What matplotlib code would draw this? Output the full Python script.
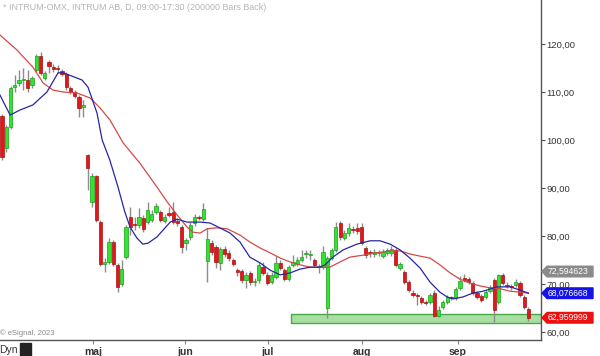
import matplotlib
matplotlib.use("Agg")
import matplotlib.pyplot as plt
from matplotlib.patches import Rectangle, Polygon
from matplotlib.transforms import blended_transform_factory
from matplotlib.ticker import FixedLocator, FuncFormatter

plt.rcParams['font.family'] = ['Liberation Sans', 'DejaVu Sans']

# ---------------- data (daily OHLC, INTRUM AB) ----------------
opens = [105.0, 98.33, 102.71, 111.04, 111.88, 112.5, 112.5, 111.46, 114.58, 117.5,
         112.92, 116.25, 115.21, 114.79, 114.38, 113.75, 110.83, 110.0, 108.96, 106.88,
         96.88, 87.08, 92.5, 82.92, 74.17, 74.58, 78.75, 73.96, 70.0, 75.63,
         83.96, 82.35, 82.29, 83.75, 82.92, 83.33, 85.0, 85.0, 83.13, 84.79,
         85.0, 82.9, 81.88, 78.54, 79.79, 82.71, 83.96, 83.54, 74.79, 78.54,
         77.71, 74.38, 77.29, 76.46, 75.0, 72.71, 72.71, 70.83, 72.29, 70.42,
         70.83, 73.54, 71.88, 70.42, 71.46, 74.38, 72.92, 71.04, 73.96, 74.17,
         75.0, 76.25, 76.0, 75.0, 73.5, 73.54, 65.0, 75.42, 77.08, 82.71,
         79.58, 80.63, 81.25, 81.67, 81.88, 77.5, 76.5, 76.25, 76.4, 75.83,
         76.46, 76.46, 77.08, 73.33, 72.5, 70.42, 68.13, 67.5, 67.08, 66.25,
         66.25, 68.13, 63.33, 65.21, 66.25, 67.1, 67.08, 69.17, 71.25, 71.04,
         70.21, 68.13, 67.5, 67.29, 68.54, 70.83, 66.25, 71.88, 69.6, 69.4,
         69.79, 70.21, 67.29, 64.79]
closes = [96.46, 102.71, 110.83, 111.46, 112.5, 112.6, 110.83, 112.92, 117.5, 113.96,
          113.96, 115.42, 114.79, 114.7, 113.75, 111.04, 110.0, 109.17, 106.67, 107.29,
          94.17, 92.5, 83.33, 74.17, 74.58, 78.75, 74.17, 69.38, 73.13, 81.88,
          81.88, 82.25, 83.96, 81.46, 85.42, 84.58, 86.25, 83.33, 83.96, 84.38,
          82.92, 82.8, 77.71, 79.17, 82.29, 83.96, 83.75, 85.63, 79.38, 76.67,
          74.58, 77.29, 76.25, 75.42, 74.17, 72.6, 70.83, 71.88, 70.42, 70.5,
          73.96, 72.29, 70.21, 71.88, 74.38, 73.33, 71.04, 73.54, 74.58, 75.0,
          75.63, 76.3, 76.1, 73.96, 73.6, 76.67, 75.42, 77.08, 81.88, 79.79,
          80.63, 81.67, 81.2, 81.04, 78.54, 76.04, 76.4, 76.67, 76.5, 76.67,
          77.08, 77.29, 73.96, 74.17, 70.42, 68.75, 67.71, 67.45, 66.25, 66.04,
          67.71, 63.33, 64.58, 66.25, 67.29, 67.0, 68.96, 70.63, 70.83, 70.42,
          68.13, 67.29, 66.67, 68.33, 69.38, 64.58, 71.88, 70.21, 69.55, 69.35,
          70.42, 67.71, 65.21, 62.96]
highs = [105.42, 103.13, 111.25, 113.54, 114.58, 115.0, 114.58, 113.33, 117.92, 118.33,
         114.38, 116.67, 115.83, 115.63, 114.79, 114.17, 111.25, 110.42, 109.38, 108.33,
         97.08, 93.13, 92.71, 83.33, 75.42, 79.58, 79.17, 74.38, 75.0, 82.29,
         86.04, 83.96, 85.83, 84.38, 87.08, 85.42, 86.88, 85.42, 84.58, 86.04,
         87.08, 83.75, 82.29, 79.58, 82.92, 84.58, 84.38, 86.88, 81.67, 79.17,
         78.13, 77.71, 77.92, 77.08, 75.42, 73.33, 73.13, 72.5, 72.71, 71.25,
         74.58, 74.58, 72.5, 72.5, 75.83, 75.0, 73.33, 73.96, 76.04, 75.63,
         77.08, 77.08, 77.08, 75.42, 74.17, 77.92, 75.83, 77.5, 82.92, 83.13,
         81.25, 82.71, 82.08, 82.71, 82.71, 77.92, 77.08, 77.29, 77.08, 77.29,
         77.5, 77.92, 77.5, 74.58, 72.92, 70.83, 68.75, 68.13, 67.5, 66.67,
         68.13, 68.75, 65.42, 66.67, 67.71, 67.5, 69.38, 71.67, 72.08, 71.46,
         70.63, 68.54, 67.92, 68.75, 69.79, 71.25, 72.08, 72.29, 70.42, 70.0,
         71.04, 70.63, 67.71, 65.21]
lows = [95.83, 97.5, 102.29, 110.0, 111.25, 110.42, 110.0, 110.83, 114.17, 113.54,
        112.5, 113.96, 114.17, 113.96, 113.33, 110.42, 109.58, 108.75, 104.79, 104.79,
        89.58, 86.04, 82.92, 73.75, 72.5, 74.17, 73.75, 68.33, 69.58, 75.21,
        80.21, 81.25, 81.67, 80.83, 82.5, 82.92, 84.58, 82.92, 82.71, 83.96,
        82.5, 82.08, 76.46, 77.08, 79.17, 82.08, 83.33, 83.13, 70.42, 76.04,
        73.33, 72.92, 75.63, 74.79, 73.75, 71.67, 70.21, 69.17, 69.79, 69.58,
        70.21, 71.88, 69.79, 70.0, 71.04, 72.92, 70.63, 70.63, 73.54, 73.75,
        74.58, 75.42, 75.0, 73.54, 72.29, 73.13, 62.92, 75.0, 76.67, 79.17,
        79.17, 80.0, 80.63, 80.42, 78.13, 75.42, 75.63, 75.63, 75.83, 75.42,
        76.04, 75.83, 73.54, 72.92, 70.0, 68.33, 67.29, 65.63, 65.83, 65.63,
        65.83, 63.13, 63.13, 64.79, 65.83, 66.67, 66.67, 68.75, 70.42, 70.0,
        67.71, 66.88, 66.25, 66.88, 68.13, 62.08, 65.83, 69.79, 69.17, 68.75,
        69.38, 67.29, 64.79, 62.29]

# moving averages (bar position, value)
blue_ma_bar = [-0.5, 1.9, 4.2, 7.2, 10.5, 13.1, 14.3, 18.7, 20.1, 22.2, 23.4, 25.2, 27.1,
               28.7, 29.9, 31.5, 32.9, 34.1, 36.2, 38.1, 39.3, 40.9, 43.2, 46.3, 48.6,
               50.9, 53.3, 55.6, 57.9, 60.3, 62.6, 65.0, 67.3, 69.6, 72.0, 74.3, 75.5,
               77.3, 79.7, 82.9, 86.0, 88.3, 90.7, 93.0, 95.3, 97.7, 100.0, 102.3,
               104.0, 105.4, 107.7, 110.0, 112.4, 115.7, 118.7, 121.0, 123.0]
blue_ma_val = [109.4, 105.2, 106.25, 107.3, 110.0, 114.0, 114.0, 112.5, 111.0, 105.6,
               100.0, 95.8, 90.2, 85.0, 81.9, 79.6, 78.3, 78.5, 79.8, 81.7, 82.9, 83.5,
               82.9, 82.9, 82.7, 81.7, 80.6, 78.75, 75.6, 74.4, 72.9, 71.9, 72.3, 73.1,
               73.5, 73.5, 74.0, 75.6, 77.1, 78.3, 79.0, 79.0, 78.3, 77.1, 75.4, 73.3,
               70.4, 68.3, 67.3, 66.9, 67.3, 68.1, 68.5, 69.4, 69.4, 68.75, 68.08]
red_ma_bar = [-0.5, 3.5, 7.2, 9.6, 11.9, 14.3, 17.5, 20.6, 22.9, 25.2, 28.3, 32.2, 36.2,
              38.6, 40.9, 43.2, 44.6, 46.3, 47.9, 50.2, 52.6, 55.6, 57.9, 60.3, 62.6,
              65.0, 67.3, 69.6, 72.0, 74.3, 76.6, 79.0, 81.3, 84.3, 87.6, 90.7, 93.0,
              95.3, 97.7, 100.0, 102.3, 104.7, 107.0, 109.3, 111.7, 114.0, 116.4,
              118.7, 121.0, 123.0]
red_ma_val = [121.9, 118.75, 115.2, 111.9, 110.4, 110.0, 109.8, 108.75, 106.7, 104.2,
              99.4, 95.2, 90.2, 87.1, 84.4, 81.9, 80.8, 80.6, 81.5, 81.7, 81.5, 80.2,
              78.75, 77.5, 76.5, 75.4, 74.6, 74.0, 73.5, 73.5, 73.5, 74.6, 75.6, 76.0,
              76.5, 76.9, 76.9, 76.25, 75.8, 75.4, 74.0, 72.3, 71.0, 70.2, 69.6, 69.2,
              69.0, 68.5, 68.3, 68.1]

month_labels = ['maj', 'jun', 'jul', 'aug', 'sep']
month_bars = [21.3, 42.8, 62.1, 84.1, 106.5]
y_ticks = [60, 70, 80, 90, 100, 110, 120]

zone_start_bar = 67.5
zone_low, zone_high = 61.9, 63.75

price_labels = [72.594623, 68.076668, 62.959999]
price_label_colors = ['#8a8a8a', '#1414e6', '#ee1111']

title = '* INTRUM-OMX, INTRUM AB, D, 09:00-17:30 (200000 Bars Back)'

# ---------------- figure ----------------
W, H = 600, 356
fig = plt.figure(figsize=(W / 100, H / 100), dpi=100)
fig.patch.set_facecolor('white')
ax = fig.add_axes([0, 16 / H, 541 / W, 340 / H])
ax.set_facecolor('white')
ax.set_xlim(-0.467, 125.93)
ax.set_ylim(58.33, 129.17)

# support zone
ax.add_patch(Rectangle((zone_start_bar, zone_low), 200, zone_high - zone_low,
                       facecolor='#a9dea3', edgecolor='#4aa84a', lw=1.0, zorder=1))

# candles
n = len(opens)
for i in range(n):
    o, h, l, c = opens[i], highs[i], lows[i], closes[i]
    up = c >= o
    face = '#2ee62e' if up else '#e3161b'
    edge = '#1c9e1c' if up else '#a81010'
    ax.vlines(i, l, h, color='#8c8c8c', lw=1.0, zorder=2)
    bot = min(o, c)
    hgt = max(abs(c - o), 0.22)
    ax.bar(i, hgt, bottom=bot, width=0.76, color=face, edgecolor=edge,
           linewidth=0.5, zorder=3)

# moving averages
ax.plot(red_ma_bar, red_ma_val, color='#d24a4a', lw=0.9, zorder=4)
ax.plot(blue_ma_bar, blue_ma_val, color='#2626a6', lw=0.9, zorder=5)

# axes styling
for s in ['top', 'left']:
    ax.spines[s].set_visible(False)
for s in ['right', 'bottom']:
    ax.spines[s].set_color('#555555')
    ax.spines[s].set_linewidth(1.0)

ax.yaxis.tick_right()
ax.yaxis.set_major_locator(FixedLocator(y_ticks))
ax.yaxis.set_major_formatter(FuncFormatter(lambda v, p: f'{v:.2f}'.replace('.', ',')))
ax.tick_params(axis='y', direction='out', length=3, width=0.8, colors='#555555',
               labelcolor='#333333', labelsize=6.8, pad=1)
ax.set_xticks(month_bars)
ax.set_xticklabels(month_labels, fontweight='bold')
ax.tick_params(axis='x', direction='out', length=3, width=0.8, colors='#888888',
               labelcolor='#333333', labelsize=7.5, pad=2)

# price labels on the right axis
tr = blended_transform_factory(ax.transAxes, ax.transData)
x0 = 1.0 + 1 / 541
tip = 5 / 541
x1 = 593 / 541
hh = 5.3 / 4.8
for v, col in zip(price_labels, price_label_colors):
    poly = Polygon([(x0, v), (x0 + tip, v + hh), (x1, v + hh), (x1, v - hh), (x0 + tip, v - hh)],
                   closed=True, facecolor=col, edgecolor=col, transform=tr,
                   clip_on=False, zorder=10)
    ax.add_patch(poly)
    ax.text(x0 + tip + 0.5 / 541, v, f'{v:.6f}'.replace('.', ','), transform=tr,
            color='white', fontsize=6.2, va='center', ha='left', clip_on=False, zorder=11)

# texts
fig.text(3 / W, 1 - 7 / H, title, fontsize=6.4, color='#b4b4b4', va='center', ha='left')
fig.text(0 / W, 1 - 333 / H, '\u00a9 eSignal, 2023', fontsize=5.5, color='#8a8a8a',
         va='center', ha='left')
fig.text(-1 / W, 1 - 350 / H, 'Dyn', fontsize=7.5, color='#333333', va='center', ha='left')
fig.patches.append(Rectangle((20 / W, 0), 11 / W, 13 / H, transform=fig.transFigure,
                             facecolor='#222222', edgecolor='#222222', figure=fig))

fig.savefig('out.png', dpi=100, facecolor='white')
